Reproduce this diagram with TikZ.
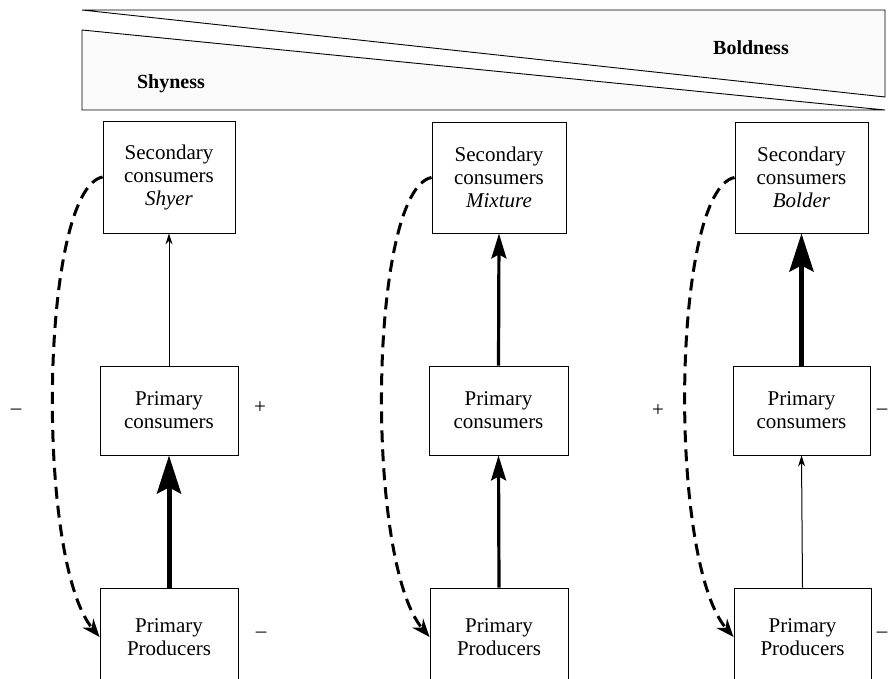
\documentclass[tikz,border=0pt]{standalone}
\usepackage{fontspec}
\setmainfont{Liberation Serif}
\usetikzlibrary{arrows.meta}
\begin{document}
\begin{tikzpicture}[x=1pt,y=-1pt,
  box/.style={draw,line width=0.9pt,rectangle,align=center,inner sep=0pt,font=\fontsize{21}{23}\selectfont},
  lbl/.style={font=\fontsize{21}{23}\selectfont,inner sep=0pt},
  thinarr/.style={line width=1pt,-{Stealth[length=11pt,width=7pt]}},
  medarr/.style={line width=3.2pt,-{Stealth[length=25pt,width=15pt,inset=4pt]}},
  thickarr/.style={line width=5pt,-{Stealth[length=38pt,width=24pt,inset=6pt]}},
  fb/.style={line width=3pt,dash pattern=on 12pt off 7pt,-{Stealth[length=18pt,width=14pt]}}
]
\useasboundingbox (0,0) rectangle (889,679);
\fill[white] (0,0) rectangle (889,679);
% top band
\filldraw[fill=black!2,line width=0.9pt] (82,10) -- (885,10) -- (885,97) -- cycle;
\filldraw[fill=black!2,line width=0.9pt] (82,30) -- (885,110) -- (82,110) -- cycle;
\node[font=\fontsize{20}{22}\selectfont\bfseries] (bold) at (751,48) {Boldness};
\node[font=\fontsize{20}{22}\selectfont\bfseries] (shy) at (171,84) {Shyness};
% column 1
\node[box,minimum width=132pt,minimum height=112pt] (s1) at (169,177) {Secondary\\consumers\\\textit{Shyer}};
\node[box,minimum width=138pt,minimum height=89pt] (c1) at (169,410.5) {Primary\\consumers};
\node[box,minimum width=138pt,minimum height=98pt] (p1) at (169,637) {Primary\\Producers};
\draw[thinarr] (c1.north) -- (s1.south);
\draw[thickarr] (p1.north) -- (c1.south);
\draw[fb] (s1.west) .. controls (40,190) and (35,560) .. (p1.west);
\node[lbl] (m1) at (16,412) {–};
\node[lbl] (pl1) at (260,408) {+};
\node[lbl] (m2) at (261,635) {–};
% column 2
\node[box,minimum width=134pt,minimum height=111pt] (s2) at (499,177.5) {Secondary\\consumers\\\textit{Mixture}};
\node[box,minimum width=139pt,minimum height=89pt] (c2) at (498.5,410.5) {Primary\\consumers};
\node[box,minimum width=138pt,minimum height=98pt] (p2) at (499,637) {Primary\\Producers};
\draw[medarr] (c2.north) -- (s2.south);
\draw[medarr] (p2.north) -- (c2.south);
\draw[fb] (s2.west) .. controls (369,190) and (364,560) .. (p2.west);
% column 3
\node[box,minimum width=133pt,minimum height=111pt] (s3) at (801.5,177.5) {Secondary\\consumers\\\textit{Bolder}};
\node[box,minimum width=137pt,minimum height=89pt] (c3) at (801.5,410.5) {Primary\\consumers};
\node[box,minimum width=137pt,minimum height=98pt] (p3) at (802.5,637) {Primary\\Producers};
\draw[thickarr] (c3.north) -- (s3.south);
\draw[thinarr] (p3.north) -- (c3.south);
\draw[fb] (s3.west) .. controls (672,190) and (667,560) .. (p3.west);
\node[lbl] (pl3) at (658,411) {+};
\node[lbl] (m3) at (882,412) {–};
\node[lbl] (m4) at (882,635) {–};
\end{tikzpicture}
\end{document}
